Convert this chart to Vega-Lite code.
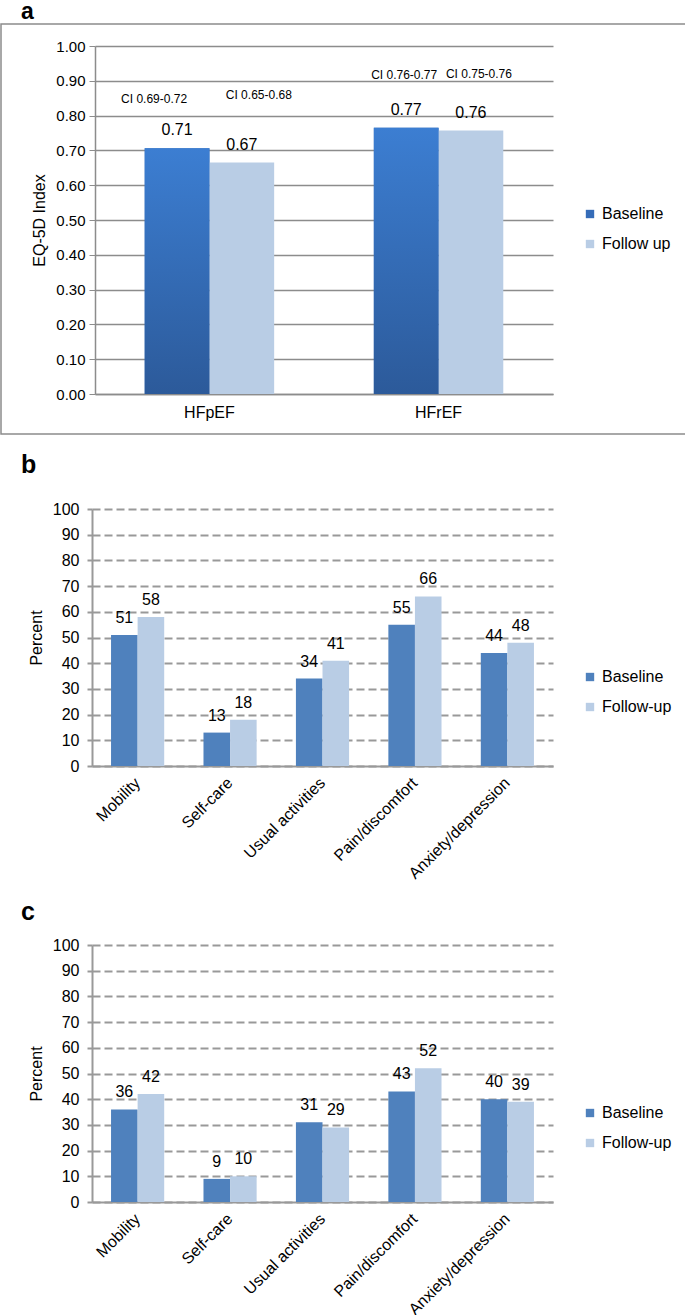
{
  "$schema": "https://vega.github.io/schema/vega-lite/v6.json",
  "padding": 0,
  "spacing": 18,
  "resolve": {
    "scale": {"x": "independent", "y": "independent", "xOffset": "independent", "color": "independent"},
    "axis": {"x": "independent", "y": "independent"},
    "legend": {"color": "independent"}
  },
  "datasets": {
    "eq": [
      {"group": "HFpEF", "series": "Baseline", "value": 0.706, "label": "0.71", "ci": "CI 0.69-0.72"},
      {"group": "HFpEF", "series": "Follow up", "value": 0.665, "label": "0.67", "ci": "CI 0.65-0.68"},
      {"group": "HFrEF", "series": "Baseline", "value": 0.765, "label": "0.77", "ci": "CI 0.76-0.77"},
      {"group": "HFrEF", "series": "Follow up", "value": 0.757, "label": "0.76", "ci": "CI 0.75-0.76"}
    ],
    "hfpef": [
      {"dim": "Mobility", "series": "Baseline", "value": 51},
      {"dim": "Mobility", "series": "Follow-up", "value": 58},
      {"dim": "Self-care", "series": "Baseline", "value": 13},
      {"dim": "Self-care", "series": "Follow-up", "value": 18},
      {"dim": "Usual activities", "series": "Baseline", "value": 34},
      {"dim": "Usual activities", "series": "Follow-up", "value": 41},
      {"dim": "Pain/discomfort", "series": "Baseline", "value": 55},
      {"dim": "Pain/discomfort", "series": "Follow-up", "value": 66},
      {"dim": "Anxiety/depression", "series": "Baseline", "value": 44},
      {"dim": "Anxiety/depression", "series": "Follow-up", "value": 48}
    ],
    "hfref": [
      {"dim": "Mobility", "series": "Baseline", "value": 36},
      {"dim": "Mobility", "series": "Follow-up", "value": 42},
      {"dim": "Self-care", "series": "Baseline", "value": 9},
      {"dim": "Self-care", "series": "Follow-up", "value": 10},
      {"dim": "Usual activities", "series": "Baseline", "value": 31},
      {"dim": "Usual activities", "series": "Follow-up", "value": 29},
      {"dim": "Pain/discomfort", "series": "Baseline", "value": 43},
      {"dim": "Pain/discomfort", "series": "Follow-up", "value": 52},
      {"dim": "Anxiety/depression", "series": "Baseline", "value": 40},
      {"dim": "Anxiety/depression", "series": "Follow-up", "value": 39}
    ]
  },
  "vconcat": [
    {
      "width": 685,
      "height": 410,
      "view": {"stroke": "#8c8c8c", "strokeWidth": 1.5},
      "title": {"text": "a", "offset": 0, "dx": 20, "fontSize": 23},
      "data": {"name": "eq"},
      "encoding": {
        "x": {"field": "group", "type": "nominal", "sort": null,
          "scale": {"range": [94, 552], "paddingInner": 0.435, "paddingOuter": 0.217},
          "axis": {"title": null, "labelAngle": 0, "offset": -40, "ticks": false, "labelPadding": 10, "labelFontSize": 16,
            "domainColor": "#8c8c8c", "domainWidth": 1.5}},
        "xOffset": {"field": "series", "type": "nominal", "sort": null, "scale": {"paddingInner": 0, "paddingOuter": 0}},
        "y": {"field": "value", "type": "quantitative",
          "scale": {"domain": [0, 1], "range": [370, 22], "nice": false},
          "axis": {"title": "EQ-5D Index", "offset": -94, "values": [0, 0.1, 0.2, 0.3, 0.4, 0.5, 0.6, 0.7, 0.8, 0.9, 1.0],
            "format": ".2f", "labelFontSize": 15, "labelPadding": 4, "tickSize": 6, "tickColor": "#8c8c8c",
            "domainColor": "#8c8c8c", "domainWidth": 1.5, "grid": true, "gridColor": "#8c8c8c", "gridWidth": 1.3,
            "titleFontSize": 16, "titleFontWeight": "normal", "titlePadding": 8}}
      },
      "layer": [
        {"mark": {"type": "bar"},
          "encoding": {"color": {"field": "series", "type": "nominal",
            "scale": {"domain": ["Baseline", "Follow up"], "range": ["#356cb8", "#b9cde5"]},
            "legend": {"title": null, "orient": "none", "legendX": 581, "legendY": 182, "symbolType": "square",
              "symbolSize": 70, "labelFontSize": 16, "rowPadding": 14, "symbolStrokeWidth": 0}}}},
        {"transform": [{"filter": "datum.series === 'Baseline'"}],
          "mark": {"type": "bar", "fill": {"gradient": "linear", "x1": 0, "y1": 0, "x2": 0, "y2": 1,
            "stops": [{"offset": 0, "color": "#3c7ed2"}, {"offset": 1, "color": "#2c5a9a"}]}}},
        {"mark": {"type": "text", "baseline": "middle", "dy": -18, "fontSize": 16},
          "encoding": {"text": {"field": "label"}}},
        {"transform": [{"filter": "datum.ci === 'CI 0.69-0.72'"}],
          "mark": {"type": "text", "baseline": "middle", "dx": -23, "dy": -49, "fontSize": 12},
          "encoding": {"text": {"field": "ci"}}},
        {"transform": [{"filter": "datum.ci === 'CI 0.65-0.68'"}],
          "mark": {"type": "text", "baseline": "middle", "dx": 17, "dy": -68, "fontSize": 12},
          "encoding": {"text": {"field": "ci"}}},
        {"transform": [{"filter": "datum.ci === 'CI 0.76-0.77'"}],
          "mark": {"type": "text", "baseline": "middle", "dx": -2, "dy": -53, "fontSize": 12},
          "encoding": {"text": {"field": "ci"}}},
        {"transform": [{"filter": "datum.ci === 'CI 0.75-0.76'"}],
          "mark": {"type": "text", "baseline": "middle", "dx": 8, "dy": -57, "fontSize": 12},
          "encoding": {"text": {"field": "ci"}}}
      ]
    },
    {
      "width": 685,
      "height": 390,
      "title": {"text": "b", "offset": 12, "dx": 20},
      "data": {"name": "hfpef"},
      "encoding": {
        "x": {"field": "dim", "type": "nominal", "sort": null,
          "scale": {"range": [91, 552], "paddingInner": 0.425, "paddingOuter": 0.206},
          "axis": {"title": null, "labelAngle": -45, "labelAlign": "right", "labelBaseline": "middle", "offset": -114, "ticks": false, "labelPadding": 14, "labelFontSize": 16,
            "domainColor": "#999999", "domainWidth": 2}},
        "xOffset": {"field": "series", "type": "nominal", "sort": null, "scale": {"paddingInner": 0, "paddingOuter": 0}},
        "y": {"field": "value", "type": "quantitative",
          "scale": {"domain": [0, 100], "range": [276, 19], "nice": false},
          "axis": {"title": "Percent", "offset": -91, "values": [0, 10, 20, 30, 40, 50, 60, 70, 80, 90, 100],
            "labelFontSize": 16, "labelPadding": 8, "tickSize": 5, "tickColor": "#999999", "tickWidth": 2,
            "domainColor": "#999999", "domainWidth": 2, "grid": true, "gridColor": "#999999", "gridWidth": 2,
            "gridDash": [8, 4], "titleFontSize": 16, "titleFontWeight": "normal", "titlePadding": 8}}
      },
      "layer": [
        {"mark": {"type": "bar"},
          "encoding": {"color": {"field": "series", "type": "nominal",
            "scale": {"domain": ["Baseline", "Follow-up"], "range": ["#4f81bd", "#b9cde5"]},
            "legend": {"title": null, "orient": "none", "legendX": 581, "legendY": 179, "symbolType": "square",
              "symbolSize": 70, "labelFontSize": 16, "rowPadding": 14, "symbolStrokeWidth": 0}}}},
        {"mark": {"type": "text", "baseline": "middle", "dy": -17, "fontSize": 16},
          "encoding": {"text": {"field": "value", "type": "quantitative", "format": "d"}}}
      ]
    },
    {
      "width": 685,
      "height": 383,
      "title": {"text": "c", "offset": 8, "dx": 20},
      "data": {"name": "hfref"},
      "encoding": {
        "x": {"field": "dim", "type": "nominal", "sort": null,
          "scale": {"range": [91, 552], "paddingInner": 0.425, "paddingOuter": 0.206},
          "axis": {"title": null, "labelAngle": -45, "labelAlign": "right", "labelBaseline": "middle", "offset": -114, "ticks": false, "labelPadding": 14, "labelFontSize": 16,
            "domainColor": "#999999", "domainWidth": 2}},
        "xOffset": {"field": "series", "type": "nominal", "sort": null, "scale": {"paddingInner": 0, "paddingOuter": 0}},
        "y": {"field": "value", "type": "quantitative",
          "scale": {"domain": [0, 100], "range": [269, 12], "nice": false},
          "axis": {"title": "Percent", "offset": -91, "values": [0, 10, 20, 30, 40, 50, 60, 70, 80, 90, 100],
            "labelFontSize": 16, "labelPadding": 8, "tickSize": 5, "tickColor": "#999999", "tickWidth": 2,
            "domainColor": "#999999", "domainWidth": 2, "grid": true, "gridColor": "#999999", "gridWidth": 2,
            "gridDash": [8, 4], "titleFontSize": 16, "titleFontWeight": "normal", "titlePadding": 8}}
      },
      "layer": [
        {"mark": {"type": "bar"},
          "encoding": {"color": {"field": "series", "type": "nominal",
            "scale": {"domain": ["Baseline", "Follow-up"], "range": ["#4f81bd", "#b9cde5"]},
            "legend": {"title": null, "orient": "none", "legendX": 581, "legendY": 172, "symbolType": "square",
              "symbolSize": 70, "labelFontSize": 16, "rowPadding": 14, "symbolStrokeWidth": 0}}}},
        {"mark": {"type": "text", "baseline": "middle", "dy": -17, "fontSize": 16},
          "encoding": {"text": {"field": "value", "type": "quantitative", "format": "d"}}}
      ]
    }
  ],
  "config": {
    "font": "Liberation Sans",
    "background": "white",
    "view": {"stroke": null},
    "axis": {"labelColor": "#000000", "titleColor": "#000000", "labelFont": "Liberation Sans", "titleFont": "Liberation Sans"},
    "legend": {"labelColor": "#000000", "labelFont": "Liberation Sans"},
    "text": {"color": "#000000", "font": "Liberation Sans"},
    "title": {"fontSize": 25, "fontWeight": "bold", "anchor": "start", "frame": "group", "color": "#000000", "font": "Liberation Sans"}
  }
}
